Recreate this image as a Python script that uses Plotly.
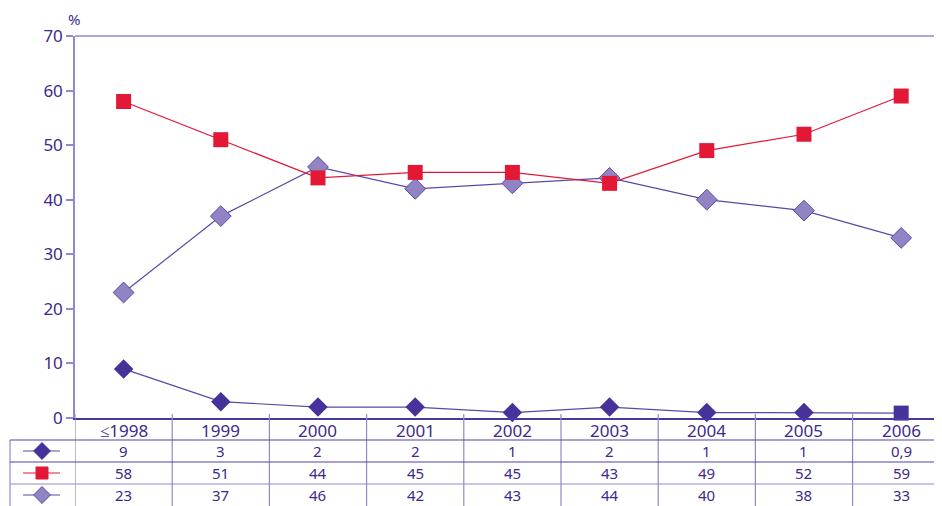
import plotly.graph_objects as go

# data
years = ["≤1998", "1999", "2000", "2001", "2002", "2003", "2004", "2005", "2006"]
series_a = [9, 3, 2, 2, 1, 2, 1, 1, 0.9]
series_b = [58, 51, 44, 45, 45, 43, 49, 52, 59]
series_c = [23, 37, 46, 42, 43, 44, 40, 38, 33]

# the page body has an 8px margin, so the figure is shrunk and everything offset
OFF = 8
W, H = 942 - OFF, 506 - OFF
TXT = "#3d2a8c"
DARK = "#47319a"
RED = "#e31837"
LIGHT = "#9284c4"
AXIS_LIGHT = "#9488cc"
FONT = "Noto Sans"

# layout in window pixels
plot_left, plot_top, plot_bottom = 75, 36, 418
row_h = 22

def px_(x):  # window x -> paper x
    return (x - OFF) / W

def py(y):  # window y -> paper y
    return (H - (y - OFF)) / H

x_idx = list(range(len(years)))
fig = go.Figure()

# series traces
fig.add_trace(go.Scatter(
    x=x_idx, y=series_c, mode="lines+markers", cliponaxis=False,
    line=dict(color="#5b47aa", width=1.2),
    marker=dict(symbol="diamond", size=16, color=LIGHT, opacity=1,
                line=dict(color="#5a46a8", width=1)),
))
fig.add_trace(go.Scatter(
    x=x_idx, y=series_b, mode="lines+markers", cliponaxis=False,
    line=dict(color=RED, width=1.2),
    marker=dict(symbol="square", size=15, color=RED, opacity=1),
))
symbols_a = ["diamond"] * (len(years) - 1) + ["square"]
fig.add_trace(go.Scatter(
    x=x_idx, y=series_a, mode="lines+markers", cliponaxis=False,
    line=dict(color="#5b47aa", width=1.2),
    marker=dict(symbol=symbols_a, size=15, color=DARK, opacity=1,
                line=dict(color=DARK, width=0)),
))

# legend keys in the table's first column (separate hidden axes, row units)
key_styles = [
    dict(line_color="#5b47aa", symbol="diamond", size=13, color=DARK, mline="#47319a"),
    dict(line_color=RED, symbol="square", size=12, color=RED, mline=RED),
    dict(line_color="#5b47aa", symbol="diamond", size=13, color=LIGHT, mline="#5a46a8"),
]
for r, ks in enumerate(key_styles):
    yr = r + 1.5
    fig.add_trace(go.Scatter(
        x=[23, 60], y=[yr, yr], mode="lines", xaxis="x2", yaxis="y2",
        line=dict(color=ks["line_color"], width=1.2), hoverinfo="skip",
    ))
    fig.add_trace(go.Scatter(
        x=[42], y=[yr], mode="markers", xaxis="x2", yaxis="y2", cliponaxis=False,
        marker=dict(symbol=ks["symbol"], size=ks["size"], color=ks["color"],
                    line=dict(color=ks["mline"], width=1)),
        hoverinfo="skip",
    ))

shapes = []
annotations = []

# top border line of the plot area
shapes.append(dict(type="line", xref="paper", yref="paper",
                   x0=px_(plot_left), x1=1, y0=py(plot_top), y1=py(plot_top),
                   line=dict(color=AXIS_LIGHT, width=1.5)))

# table vertical lines (category boundaries), with a small tick above the axis
for i in range(len(years)):
    shapes.append(dict(type="line", xref="x", yref="paper",
                       x0=i - 0.5, x1=i - 0.5, y0=py(plot_bottom - 4), y1=0,
                       line=dict(color=AXIS_LIGHT, width=1.2)))
# table left border
shapes.append(dict(type="line", xref="paper", yref="paper",
                   x0=px_(10), x1=px_(10), y0=py(plot_bottom + row_h), y1=0,
                   line=dict(color=AXIS_LIGHT, width=1.2)))
# table horizontal lines
for r in range(1, 4):
    yy = py(plot_bottom + r * row_h)
    shapes.append(dict(type="line", xref="paper", yref="paper",
                       x0=px_(10), x1=1, y0=yy, y1=yy,
                       line=dict(color="#5541a4" if r < 3 else AXIS_LIGHT, width=1.2)))

# header row: years
for i, yv in enumerate(years):
    annotations.append(dict(x=i, y=py(plot_bottom + row_h / 2 + 1), xref="x", yref="paper",
                            text=yv, showarrow=False, xanchor="center", yanchor="middle",
                            font=dict(family=FONT, size=17, color=TXT)))

def fmt(v):
    return str(v).replace(".", ",")

for r, vals in enumerate([series_a, series_b, series_c]):
    for i, v in enumerate(vals):
        annotations.append(dict(x=i, y=py(plot_bottom + (r + 1.5) * row_h), xref="x", yref="paper",
                                text=fmt(v), showarrow=False, xanchor="center", yanchor="middle",
                                font=dict(family=FONT, size=15, color=TXT)))

# unit label above the y axis
annotations.append(dict(x=px_(74), y=1, xref="paper", yref="paper", text="%",
                        showarrow=False, xanchor="center", yanchor="top", borderpad=0,
                        font=dict(family=FONT, size=15, color=TXT)))

fig.update_layout(
    width=W, height=H,
    margin=dict(l=0, r=0, t=0, b=0, autoexpand=False),
    paper_bgcolor="white", plot_bgcolor="white",
    showlegend=False,
    font=dict(family=FONT, color=TXT),
    xaxis=dict(domain=[px_(plot_left), 1], range=[-0.5, 8.42], showgrid=False, zeroline=False,
               showticklabels=False, showline=True, linecolor="#4b36a0", linewidth=1.8,
               fixedrange=True, automargin=False),
    yaxis=dict(domain=[py(plot_bottom), py(plot_top)], range=[0, 70], dtick=10,
               showgrid=False, zeroline=False, showline=True, linecolor=AXIS_LIGHT,
               linewidth=1.5, ticks="outside", ticklen=7, tickcolor=AXIS_LIGHT, tickwidth=1.5,
               tickfont=dict(family=FONT, size=17, color=TXT), fixedrange=True,
               automargin=False),
    xaxis2=dict(domain=[0, px_(plot_left)], range=[OFF, plot_left], visible=False,
                fixedrange=True, automargin=False),
    yaxis2=dict(domain=[0, py(plot_bottom)], range=[4, 0], visible=False,
                fixedrange=True, automargin=False),
    shapes=shapes,
    annotations=annotations,
)

fig.write_html("out.html")
